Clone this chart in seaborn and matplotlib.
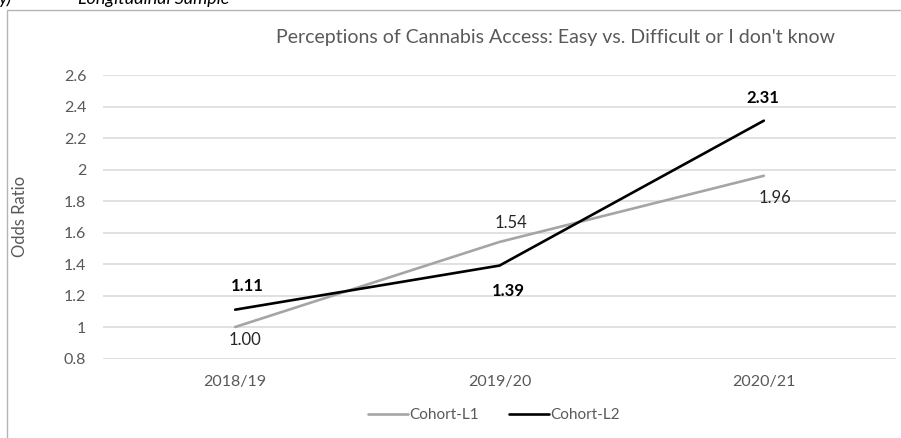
import pandas as pd
import seaborn as sns
import matplotlib.pyplot as plt
from matplotlib.patches import Rectangle
from matplotlib.ticker import FuncFormatter

# data
years = ["2018/19", "2019/20", "2020/21"]
cohort_l1 = [1.00, 1.54, 1.96]
cohort_l2 = [1.11, 1.39, 2.31]
series_names = ["Cohort-L1", "Cohort-L2"]

COLOR_L1 = "#A5A5A5"
COLOR_L2 = "#000000"
TEXT_GREY = "#595959"
GRID_GREY = "#D9D9D9"

# label offsets in pixels (dx, dy) for each point
l1_offsets = [(10, -13), (11, 19), (11, -22)]
l2_offsets = [(12, 24), (9, -25), (-1, 23)]

df = pd.DataFrame({
	"year": years * 2,
	"odds": cohort_l1 + cohort_l2,
	"cohort": [series_names[0]] * 3 + [series_names[1]] * 3,
})

sns.set_style("white")
plt.rcParams["font.family"] = ["Lato", "DejaVu Sans"]

DPI = 100
fig = plt.figure(figsize=(9.01, 4.38), dpi=DPI)
W, H = 901, 438
ax = fig.add_axes([103 / W, 1 - 358.5 / H, (896 - 103) / W, (358.5 - 75) / H])

sns.lineplot(data=df, x="year", y="odds", hue="cohort", sort=False,
	palette=[COLOR_L1, COLOR_L2], linewidth=1.9, ax=ax, legend=False)

ax.set_xlim(-0.5, 2.5)
ax.set_ylim(0.8, 2.6)
ax.set_yticks([0.8 + 0.2 * i for i in range(10)])
ax.yaxis.set_major_formatter(FuncFormatter(lambda v, p: "{:g}".format(round(v, 1))))
ax.yaxis.grid(True, color=GRID_GREY, linewidth=1.1)
ax.xaxis.grid(False)
for s in ax.spines.values():
	s.set_visible(False)
ax.tick_params(axis="y", length=0, pad=12, labelsize=11.5, labelcolor=TEXT_GREY)
ax.tick_params(axis="x", length=0, pad=12, labelsize=11.5, labelcolor=TEXT_GREY)
ax.set_xlabel("")
ax.set_ylabel("")
ax.set_axisbelow(True)

px = 72.0 / DPI
for vals, offs, col, wt in [(cohort_l1, l1_offsets, "#262626", "normal"),
							(cohort_l2, l2_offsets, "#000000", "bold")]:
	for i, (v, (dx, dy)) in enumerate(zip(vals, offs)):
		ax.annotate("{:.2f}".format(v), (i, v), xytext=(dx * px, dy * px),
			textcoords="offset points", ha="center", va="center",
			fontsize=12, color=col, fontweight=wt)

fig.text(556 / W, 1 - 38 / H, "Perceptions of Cannabis Access: Easy vs. Difficult or I don't know",
	ha="center", va="center", fontsize=14, color=TEXT_GREY)
fig.text(20 / W, 1 - 216 / H, "Odds Ratio", rotation=90, ha="center", va="center",
	fontsize=12, color=TEXT_GREY)

# cut-off heading above the chart frame
fig.text(-2 / W, 1 - 4 / H, "y)", ha="left", va="baseline", fontsize=13, style="italic", color="#000000")
fig.text(78 / W, 1 - 4 / H, "Longitudinal Sample", ha="left", va="baseline", fontsize=13,
	style="italic", color="#000000")

# chart frame
fig.patches.append(Rectangle((7 / W, -0.1), 1.2, 1 - 10 / H + 0.1, transform=fig.transFigure,
	fill=False, edgecolor="#B5B5B5", linewidth=1.0))

# legend
handles = [plt.Line2D([], [], color=COLOR_L1, linewidth=1.9),
		plt.Line2D([], [], color=COLOR_L2, linewidth=1.9)]
fig.legend(handles, series_names, loc="center", bbox_to_anchor=(494 / W, 1 - 415 / H),
	ncol=2, frameon=False, fontsize=11, labelcolor=TEXT_GREY, handlelength=2.6,
	handletextpad=0.1, columnspacing=2.0)

fig.savefig("out.png", dpi=DPI)
